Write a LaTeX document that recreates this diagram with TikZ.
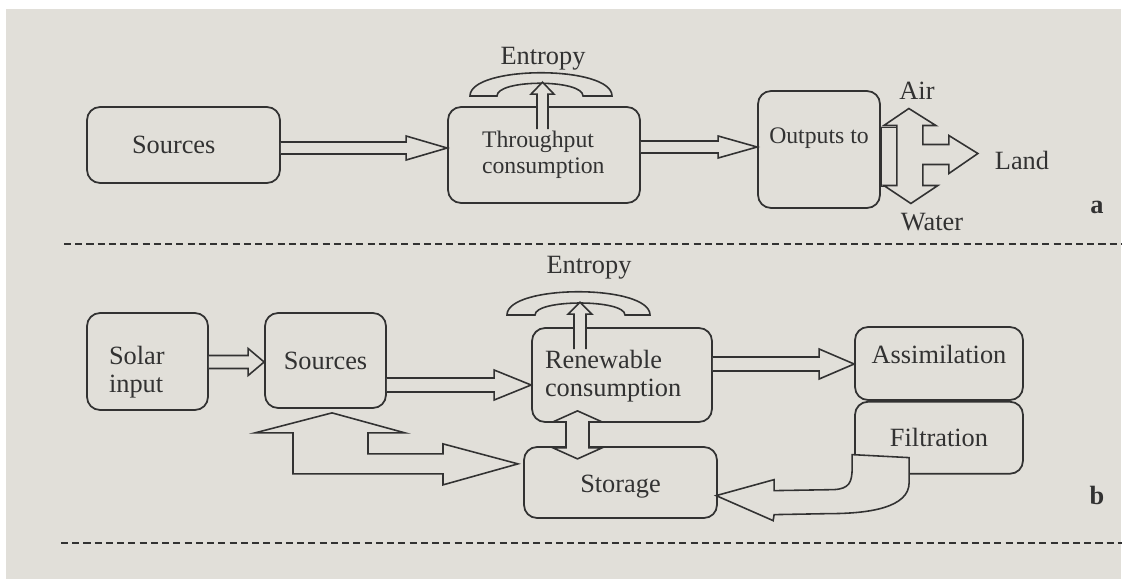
\documentclass[tikz,border=0pt]{standalone}
\usepackage{fontspec}
\setmainfont{Liberation Serif}
\usepackage{tikz}
\usetikzlibrary{calc, positioning}

\definecolor{paper}{RGB}{225,223,217}
\definecolor{ink}{RGB}{50,50,50}

% straight block arrow: from, to, y, half shaft, half head, head length
\newcommand{\fatarrow}[6]{%
  \path (#1 |- 0,#3) coordinate (fa-s) (#2 |- 0,#3) coordinate (fa-e);
  \draw[hollow] ($(fa-s)+(0,-#4)$) -- ($(fa-e)+(-#6,-#4)$) -- ($(fa-e)+(-#6,-#5)$)
    -- (fa-e) -- ($(fa-e)+(-#6,#5)$) -- ($(fa-e)+(-#6,#4)$) -- ($(fa-s)+(0,#4)$);
}

\begin{document}
\begin{tikzpicture}[x=0.02cm, y=-0.02cm,
    box/.style={rectangle, draw=ink, line width=1pt, rounded corners=0.26cm, text=ink, font=\fontsize{15}{16}\selectfont, inner sep=2pt},
    small/.style={font=\fontsize{13.5}{14.5}\selectfont},
    hollow/.style={draw=ink, line width=0.9pt, fill=paper, line join=miter},
    hood/.style={draw=ink, line width=0.9pt, fill=paper},
    lbl/.style={text=ink, font=\fontsize{15}{16}\selectfont, inner sep=0pt},
    tag/.style={text=ink, font=\fontsize{15}{16}\selectfont\bfseries, inner sep=0pt},
    divider/.style={draw=ink, line width=1.1pt, dash pattern=on 4pt off 2.4pt}]
    \useasboundingbox (0,0) rectangle (1127,579);
    \fill[paper] (6,9) rectangle (1121,579);

    % Panel a
    \node[box, minimum width=3.86cm, minimum height=1.52cm, text width=2.06cm, align=left] (srcA) at (183.5,145) {Sources};
    \node[box, small, minimum width=3.84cm, minimum height=1.92cm, text width=2.48cm, align=left] (thrA) at (544,155) {Throughput\\consumption};
    \node[box, small, minimum width=2.44cm, minimum height=2.34cm, text depth=16pt] (outA) at (819,149.5) {Outputs to};
    \node[lbl] (entA) at (543,59) {Entropy};
    \node[lbl] (air) at (917,90.5) {Air};
    \node[lbl] (land) at (1022,160) {Land};
    \node[lbl] (water) at (932,222.5) {Water};
    \node[tag] (tagA) at (1097,207) {a};

    \fatarrow{srcA.east}{thrA.west}{148}{6}{12}{41}
    \fatarrow{thrA.east}{outA.west}{147}{6}{11}{39}
    \draw[hood] (470,96) .. controls (470,65) and (612,65) .. (612,96) -- (583,96)
      .. controls (583,79) and (497,79) .. (497,96) -- cycle;
    \draw[hollow] ($(thrA.north)+(-7,23)$) -- ++(0,-35) -- ++(-6,0) -- ++(11.5,-12) -- ++(11.5,12) -- ++(-6,0) -- ++(0,35);
    \draw[hollow] ($(outA.east)+(0,-22)$) rectangle ++(16,59);
    \draw[hollow] ($(outA.east)+(16,-24)$) -- ++(-13,0) -- ++(25,-17) -- ++(27,17) -- ++(-13,0) -- ++(0,19)
      -- ++(26,0) -- ++(0,-9) -- ++(29,18) -- ++(-29,20) -- ++(0,-9) -- ++(-26,0) -- ++(0,21)
      -- ++(15,0) -- ++(-27,18) -- ++(-27,-18) -- ++(13,0) -- cycle;

    \draw[divider] (64,244) -- (1122,244);

    % Panel b
    \node[box, minimum width=2.42cm, minimum height=1.94cm, text width=1.54cm, align=left, text height=23pt] (solB) at (147.5,361.5) {Solar\\input};
    \node[box, minimum width=2.42cm, minimum height=1.9cm] (srcB) at (325.5,360.5) {Sources};
    \node[box, minimum width=3.6cm, minimum height=1.88cm, text width=3.08cm, align=left, text height=12pt] (renB) at (622,375) {Renewable\\consumption};
    \node[box, minimum width=3.86cm, minimum height=1.42cm, text height=15pt] (stoB) at (620.5,482.5) {Storage};
    \node[box, minimum width=3.36cm, minimum height=1.46cm, text depth=10pt] (asmB) at (939,363.5) {Assimilation};
    \node[box, minimum width=3.36cm, minimum height=1.44cm, below=0pt of asmB] (filB) {Filtration};
    \node[lbl] (entB) at (589,268) {Entropy};
    \node[tag] (tagB) at (1097,495) {b};

    \fatarrow{solB.east}{srcB.west}{362}{6.5}{13.5}{16}
    \fatarrow{srcB.east}{renB.west}{385}{7}{15}{37}
    \fatarrow{renB.east}{asmB.west}{364}{7}{15}{35}
    \draw[hood] (507,315) .. controls (507,284) and (650,284) .. (650,315) -- (625,315)
      .. controls (625,299) and (535,299) .. (535,315) -- cycle;
    \draw[hollow] ($(renB.north)+(-48,22)$) -- ++(0,-35) -- ++(-6,0) -- ++(12,-12) -- ++(12,12) -- ++(-6,0) -- ++(0,35);
    \draw[hollow] ($(renB.south)+(-44.5,-12)$) -- ++(24.5,11) -- ++(-13,0) -- ++(0,26) -- ++(13,0) -- ++(-24.5,11)
      -- ++(-24.5,-11) -- ++(13,0) -- ++(0,-26) -- ++(-13,0) -- cycle;
    \draw[hollow] ($(srcB.south)+(6.5,4)$) -- ++(73,20) -- ++(-37,0) -- ++(0,21) -- ++(75,0) -- ++(0,-10)
      -- ++(75,20) -- ++(-75,21) -- ++(0,-11) -- ++(-150,0) -- ++(0,-41) -- ++(-38,0) -- cycle;
    \coordinate (ft) at ($(filB.south west)+(-2,-20)$);
    \draw[hollow] (ft) -- ($(ft)+(57,3)$) -- ($(ft)+(57,28)$) .. controls ($(ft)+(57,53)$) and ($(ft)+(17,59)$) .. ($(ft)+(-23,59)$)
      -- ($(ft)+(-78,60)$) -- ($(ft)+(-79,66)$) -- ($(ft)+(-136,41)$) -- ($(ft)+(-78,25)$) -- ($(ft)+(-78,36)$)
      -- ($(ft)+(-18,35)$) .. controls ($(ft)+(-3,34)$) and ($(ft)+(0,28)$) .. ($(ft)+(0,13)$) -- cycle;

    \draw[divider] (61,543) -- (1122,543);
\end{tikzpicture}
\end{document}
